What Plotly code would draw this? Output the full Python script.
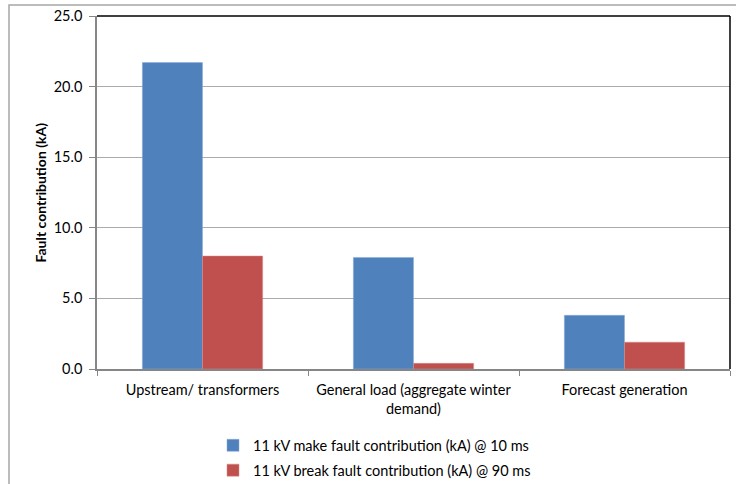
import plotly.graph_objects as go

categories = ["Upstream/ transformers", "General load (aggregate winter<br>demand)", "Forecast generation"]
make_values = [21.7, 7.9, 3.8]
break_values = [8.0, 0.4, 1.9]
series_names = ["11 kV make fault contribution (kA) @ 10 ms", "11 kV break fault contribution (kA) @ 90 ms"]
y_ticks = [0, 5, 10, 15, 20, 25]
y_tick_labels = ["0.0", "5.0", "10.0", "15.0", "20.0", "25.0"]

FONT = "Lato"
FS = 14.5
W, H = 736, 484
ml, mr, mt, mb = 97, 6, 16, 115

fig = go.Figure()
fig.add_trace(go.Bar(x=categories, y=make_values, name=series_names[0],
                     marker=dict(color="#4F81BD", line=dict(color="#8AABD6", width=0.5)),
                     legendgroup="a"))
fig.add_trace(go.Bar(x=categories, y=break_values, name=series_names[1],
                     marker=dict(color="#C0504D", line=dict(color="#D98A88", width=0.5)),
                     legendgroup="b"))

fig.update_layout(
    width=W, height=H,
    margin=dict(l=ml, r=mr, t=mt, b=mb, autoexpand=False),
    paper_bgcolor="white", plot_bgcolor="white",
    barmode="group", bargap=0.43, bargroupgap=0,
    font=dict(family=FONT, size=FS, color="#000000"),
    legend=dict(orientation="v", x=(213 - ml) / (W - ml - mr), xanchor="left",
                y=-0.171, yanchor="top", traceorder="grouped", tracegroupgap=3,
                font=dict(family=FONT, size=FS), bgcolor="rgba(0,0,0,0)",
                itemwidth=30),
    showlegend=True,
)
fig.update_xaxes(showline=True, linecolor="#868686", linewidth=1.5, automargin=False,
                 ticks="outside", tickson="boundaries", ticklen=5, tickcolor="#868686",
                 showgrid=False, tickfont=dict(family=FONT, size=FS), ticklabelstandoff=7)
fig.update_yaxes(range=[0, 25], tickvals=y_ticks, ticktext=y_tick_labels, automargin=False,
                 showline=True, linecolor="#868686", linewidth=1.5,
                 ticks="outside", ticklen=6, tickcolor="#868686",
                 showgrid=True, gridcolor="#ABABAB", gridwidth=1,
                 tickfont=dict(family=FONT, size=FS), ticklabelstandoff=4)

# plot border top and right (black)
fig.add_shape(type="line", xref="paper", yref="paper", x0=0, x1=1, y0=1, y1=1,
              line=dict(color="black", width=1.5))
fig.add_shape(type="line", xref="paper", yref="paper", x0=1, x1=1, y0=0, y1=1,
              line=dict(color="black", width=1.5))
# outer chart frame
px = lambda v: (v - ml) / (W - ml - mr)
py = lambda v: (H - mb - v) / (H - mt - mb)
fig.add_shape(type="rect", xref="paper", yref="paper",
              x0=px(9), x1=px(745), y0=py(5), y1=py(495),
              line=dict(color="#A6A6A6", width=1.5), layer="below")

fig.add_annotation(text="<b>Fault contribution (kA)</b>", textangle=-90,
                   xref="paper", yref="paper", x=px(40), y=0.5,
                   xanchor="center", yanchor="middle",
                   showarrow=False, font=dict(family=FONT, size=FS - 0.5))

fig.write_html("out.html", config={"displayModeBar": False},
               post_script="document.body.style.margin='0';document.body.style.overflow='hidden';")
